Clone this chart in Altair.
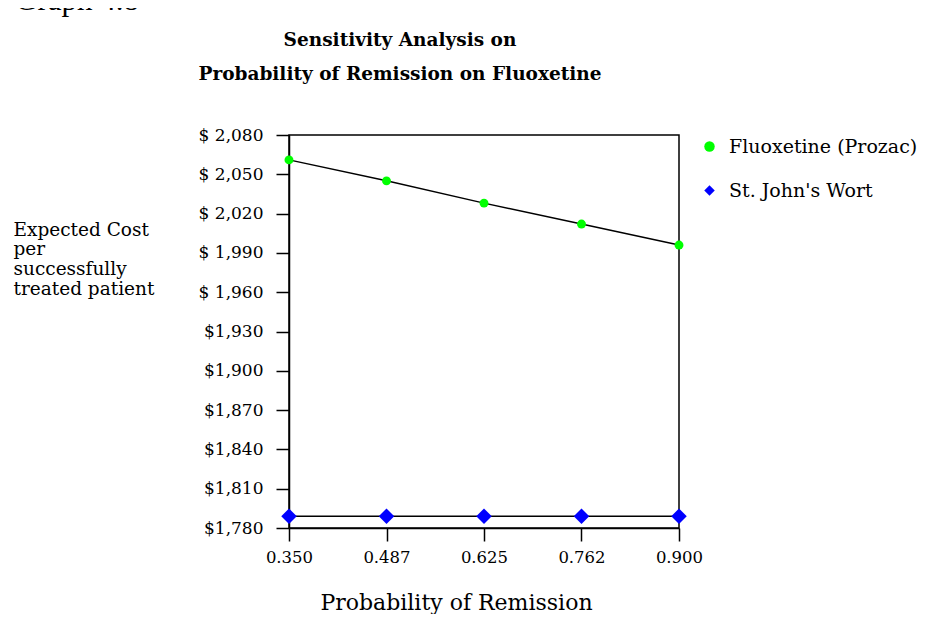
import altair as alt
import pandas as pd

# ---- data ----
prob = [0.35, 0.4875, 0.625, 0.7625, 0.9]
prob_labels = ["0.350", "0.487", "0.625", "0.762", "0.900"]
fluoxetine = [2061, 2045, 2028, 2012, 1996]
st_johns = [1789, 1789, 1789, 1789, 1789]
series_names = ["Fluoxetine (Prozac)", "St. John's Wort"]
series_colors = ["#00ff00", "#0000ff"]
series_shapes = ["circle", "diamond"]
cost_ticks = [1780, 1810, 1840, 1870, 1900, 1930, 1960, 1990, 2020, 2050, 2080]
cost_labels = ["$1,780", "$1,810", "$1,840", "$1,870", "$1,900", "$1,930",
               "$ 1,960", "$ 1,990", "$ 2,020", "$ 2,050", "$ 2,080"]
title_lines = ["Sensitivity Analysis on", "Probability of Remission on Fluoxetine"]
y_title_lines = ["Expected Cost", "per", "successfully", "treated patient"]
x_title = "Probability of Remission"
corner_note = ["Graph 4.8"]

rows = []
for p, f in zip(prob, fluoxetine):
    rows.append({"prob": p, "cost": f, "series": series_names[0]})
for p, s in zip(prob, st_johns):
    rows.append({"prob": p, "cost": s, "series": series_names[1]})
df = pd.DataFrame(rows)

SERIF = "DejaVu Serif"

x_label_expr = "[" + ",".join("'%s'" % l for l in prob_labels) + "][round((datum.value - 0.35) / 0.1375)]"
y_label_expr = "[" + ",".join("'%s'" % l for l in cost_labels) + "][round((datum.value - 1780) / 30)]"

x_enc = alt.X(
    "prob:Q",
    scale=alt.Scale(domain=[0.35, 0.9], nice=False, zero=False),
    axis=alt.Axis(
        values=prob, labelExpr=x_label_expr, title=x_title,
        titleFont=SERIF, titleFontSize=22, titleFontWeight="normal", titleColor="black",
        titleX=167, titleY=81, titleAlign="center", titleBaseline="alphabetic",
        labelFont=SERIF, labelFontSize=16.5, labelColor="black", labelPadding=8,
        labelFlush=False, tickSize=13, grid=False,
    ),
)
y_enc = alt.Y(
    "cost:Q",
    scale=alt.Scale(domain=[1780, 2080], nice=False, zero=False),
    axis=alt.Axis(
        values=cost_ticks, labelExpr=y_label_expr, title=y_title_lines,
        titleFont=SERIF, titleFontSize=18.5, titleFontWeight="normal", titleColor="black",
        titleAngle=0, titleAlign="left", titleBaseline="alphabetic",
        titleX=-276, titleY=100, titleLineHeight=19.8,
        labelFont=SERIF, labelFontSize=17, labelColor="black", labelPadding=13,
        tickSize=13, grid=False,
    ),
)

legend = alt.Legend(
    title=None, orient="none", legendX=411, legendY=2,
    labelFont=SERIF, labelFontSize=19, labelColor="black", labelOffset=10, labelLimit=400,
    symbolSize=110, symbolStrokeWidth=0, symbolOpacity=1, rowPadding=24, padding=0,
)

base = alt.Chart(df)

lines = base.mark_line(color="black", strokeWidth=1.5).encode(
    x=x_enc, y=y_enc, detail="series:N"
)

points = base.mark_point(filled=True, opacity=1).encode(
    x=x_enc, y=y_enc,
    color=alt.Color("series:N", scale=alt.Scale(domain=series_names, range=series_colors), legend=legend),
    shape=alt.Shape("series:N", scale=alt.Scale(domain=series_names, range=series_shapes), legend=legend),
    size=alt.condition(alt.datum.series == series_names[1], alt.value(240), alt.value(80)),
)

note = alt.Chart(pd.DataFrame({"t": corner_note})).mark_text(
    font="Liberation Serif", fontSize=31, align="left", baseline="alphabetic", color="black"
).encode(text="t:N", x=alt.value(-274), y=alt.value(-125))

heading = alt.Chart(pd.DataFrame({"k": [0]})).mark_text(
    text=title_lines, font=SERIF, fontWeight="bold", fontSize=18.5, lineHeight=34,
    align="center", baseline="alphabetic", color="black"
).encode(x=alt.value(111), y=alt.value(-89))

chart = alt.layer(lines, points, note, heading).properties(
    width=390, height=393,
    padding={"left": 281, "top": 127, "right": 238, "bottom": 86},
    autosize=alt.AutoSizeParams(type="none"),
).configure_view(
    stroke="black", strokeWidth=1.5
).configure_axis(
    domainColor="black", domainWidth=1.5, tickColor="black", tickWidth=1.5
)

chart.save("out.html", embed_options={"renderer": "svg", "actions": False})
